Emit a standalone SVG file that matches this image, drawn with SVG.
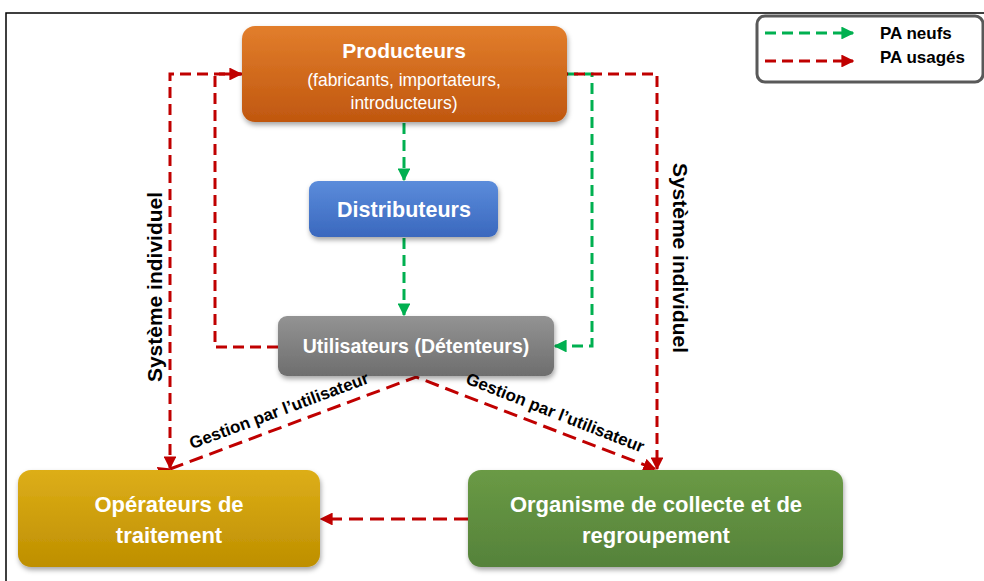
<svg xmlns="http://www.w3.org/2000/svg" width="984" height="581" viewBox="0 0 984 581">
<defs>
<style>
.box{stroke:none;filter:url(#sh)}
.t{font-family:"Liberation Sans",Arial,sans-serif;font-weight:bold;fill:#fff;text-anchor:middle}
.n{font-weight:normal}
.lab{font-family:"Liberation Sans",Arial,sans-serif;font-weight:bold;fill:#000;text-anchor:middle}
.red{fill:none;stroke:#C00000;stroke-width:3;stroke-dasharray:11,6}
.grn{fill:none;stroke:#00B050;stroke-width:3;stroke-dasharray:11,6}
</style>
<filter id="sh" x="-10%" y="-10%" width="120%" height="130%">
<feDropShadow dx="1" dy="3" stdDeviation="2.5" flood-color="#000" flood-opacity="0.35"/>
</filter>
<marker id="ar" viewBox="0 0 10 10" refX="9" refY="5" markerWidth="4.3" markerHeight="4.3" orient="auto" markerUnits="strokeWidth">
<path d="M0,0 L10,5 L0,10 z" fill="#C00000"/>
</marker>
<marker id="ag" viewBox="0 0 10 10" refX="9" refY="5" markerWidth="4.3" markerHeight="4.3" orient="auto" markerUnits="strokeWidth">
<path d="M0,0 L10,5 L0,10 z" fill="#00B050"/>
</marker>
<linearGradient id="gO" x1="0" y1="0" x2="0" y2="1"><stop offset="0" stop-color="#E27E2C"/><stop offset="1" stop-color="#C0570F"/></linearGradient>
<linearGradient id="gB" x1="0" y1="0" x2="0" y2="1"><stop offset="0" stop-color="#5B8CDB"/><stop offset="1" stop-color="#3A68BE"/></linearGradient>
<linearGradient id="gG" x1="0" y1="0" x2="0" y2="1"><stop offset="0" stop-color="#939393"/><stop offset="1" stop-color="#6E6E6E"/></linearGradient>
<linearGradient id="gY" x1="0" y1="0" x2="0" y2="1"><stop offset="0" stop-color="#DDAE18"/><stop offset="1" stop-color="#BE8F00"/></linearGradient>
<linearGradient id="gV" x1="0" y1="0" x2="0" y2="1"><stop offset="0" stop-color="#6A9A45"/><stop offset="1" stop-color="#55823A"/></linearGradient>
</defs>
<rect x="0" y="0" width="984" height="581" fill="#fff"/>
<rect x="6" y="13" width="990" height="580" fill="none" stroke="#000" stroke-width="1.5"/>

<g id="legend">
<rect x="757" y="16" width="226" height="66" rx="8" fill="#fff" stroke="#595959" stroke-width="3"/>
<line x1="765" y1="33" x2="853" y2="33" class="grn" marker-end="url(#ag)"/>
<line x1="765" y1="61" x2="853" y2="61" class="red" marker-end="url(#ar)"/>
<text x="880" y="39" class="lab" font-size="17" style="text-anchor:start">PA neufs</text>
<text x="880" y="63" class="lab" font-size="17" style="text-anchor:start">PA usagés</text>
</g>

<g id="connectors">
<line x1="404" y1="123" x2="404" y2="180" class="grn" marker-end="url(#ag)"/>
<line x1="404" y1="238" x2="404" y2="315" class="grn" marker-end="url(#ag)"/>
<polyline points="567,74 592,74 592,346 555,346" class="grn" marker-end="url(#ag)"/>
<polyline points="278,347 215,347 215,74 241,74" class="red" marker-end="url(#ar)"/>
<polyline points="242,74 170,74 170,468" class="red" marker-end="url(#ar)"/>
<polyline points="557,74 657,74 657,469" class="red" marker-end="url(#ar)"/>
<polyline points="170,469 416,377 655,469" class="red" marker-start="url(#ar)" marker-end="url(#ar)" style="stroke-dasharray:14,7"/>
<line x1="468" y1="519" x2="321" y2="519" class="red" marker-end="url(#ar)" style="stroke-dasharray:14,7"/>
</g>

<g id="n-producteurs">
<rect x="242" y="26" width="325" height="96" rx="13" fill="url(#gO)" class="box"/>
<text x="404" y="58" class="t" font-size="21">Producteurs</text>
<text x="404" y="86" class="t n" font-size="17.5">(fabricants, importateurs,</text>
<text x="404" y="109" class="t n" font-size="17.5">introducteurs)</text>
</g>
<g id="n-distributeurs">
<rect x="309" y="181" width="189" height="56" rx="9" fill="url(#gB)" class="box"/>
<text x="404" y="217" class="t" font-size="21.5">Distributeurs</text>
</g>
<g id="n-utilisateurs">
<rect x="278" y="316" width="276" height="60" rx="9" fill="url(#gG)" class="box"/>
<text x="416" y="353" class="t" font-size="19.5">Utilisateurs (Détenteurs)</text>
</g>
<g id="n-operateurs">
<rect x="18" y="470" width="302" height="97" rx="13" fill="url(#gY)" class="box"/>
<text x="169" y="512" class="t" font-size="22">Opérateurs de</text>
<text x="169" y="543" class="t" font-size="22">traitement</text>
</g>
<g id="n-organisme">
<rect x="468" y="470" width="375" height="97" rx="13" fill="url(#gV)" class="box"/>
<text x="656" y="512" class="t" font-size="22">Organisme de collecte et de</text>
<text x="656" y="543" class="t" font-size="22">regroupement</text>
</g>

<g id="labels">
<text transform="translate(162,287) rotate(-90)" class="lab" font-size="21">Système individuel</text>
<text transform="translate(673,258) rotate(90)" class="lab" font-size="21">Système individuel</text>
<text transform="translate(281,416) rotate(-20.5)" class="lab" font-size="17">Gestion par l’utilisateur</text>
<text transform="translate(553,418) rotate(21.5)" class="lab" font-size="17">Gestion par l’utilisateur</text>
</g>
</svg>
